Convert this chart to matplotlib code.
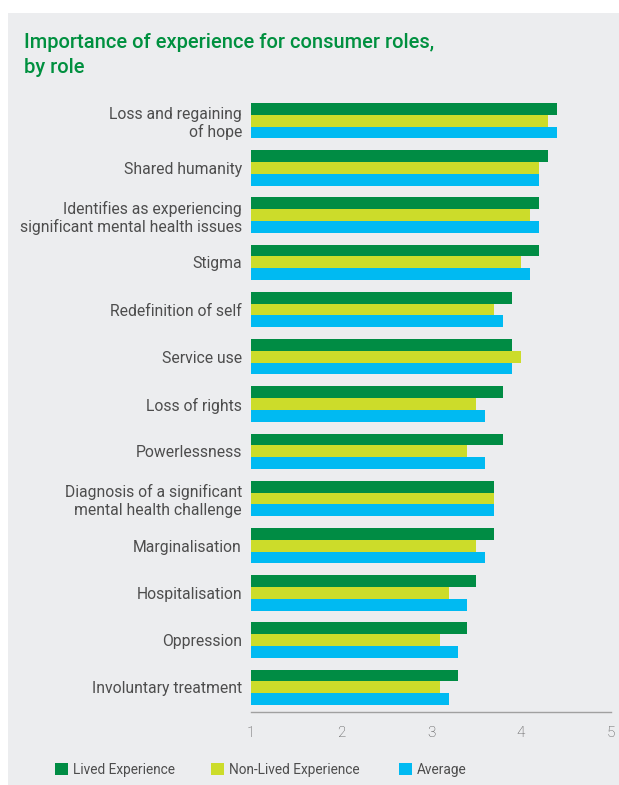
import matplotlib
matplotlib.use("Agg")
import matplotlib.pyplot as plt
from matplotlib.patches import Rectangle
import numpy as np

categories = [
    "Loss and regaining\nof hope",
    "Shared humanity",
    "Identifies as experiencing\nsignificant mental health issues",
    "Stigma",
    "Redefinition of self",
    "Service use",
    "Loss of rights",
    "Powerlessness",
    "Diagnosis of a significant\nmental health challenge",
    "Marginalisation",
    "Hospitalisation",
    "Oppression",
    "Involuntary treatment",
]
lived = [4.4, 4.3, 4.2, 4.2, 3.9, 3.9, 3.8, 3.8, 3.7, 3.7, 3.5, 3.4, 3.3]
non_lived = [4.3, 4.2, 4.1, 4.0, 3.7, 4.0, 3.5, 3.4, 3.7, 3.5, 3.2, 3.1, 3.1]
average = [4.4, 4.2, 4.2, 4.1, 3.8, 3.9, 3.6, 3.6, 3.7, 3.6, 3.4, 3.3, 3.2]
series_names = ["Lived Experience", "Non-Lived Experience", "Average"]
x_ticks = [1, 2, 3, 4, 5]

GREEN = "#008C44"
LIME = "#CCDC2A"
BLUE = "#00BAF2"
BG = "#ECEDEF"
TEXT = "#4D4D4D"

W, H = 619, 785
fig = plt.figure(figsize=(W / 100, H / 100), dpi=100)
fig.patch.set_facecolor("white")

# grey panel behind the chart
fig.patches.append(Rectangle((8 / W, 0), 1 - 8 / W, 1 - 13 / H,
                             transform=fig.transFigure, facecolor=BG,
                             edgecolor="none", zorder=-5))

ax = fig.add_axes([251 / W, (H - 712) / H, 360 / W, 616 / H])
ax.set_facecolor("none")
ax.set_zorder(2)

y = np.arange(len(categories))
bh = 0.25
base = 1
ax.barh(y - bh, np.array(lived) - base, height=bh, left=base, color=GREEN)
ax.barh(y, np.array(non_lived) - base, height=bh, left=base, color=LIME)
ax.barh(y + bh, np.array(average) - base, height=bh, left=base, color=BLUE)

ax.set_xlim(1, 5)
ax.set_ylim(len(categories) - 1 + 0.525, -0.525)
ax.set_xticks(x_ticks)
ax.set_xticklabels([str(t) for t in x_ticks], family="Roboto", fontweight="light",
                   fontsize=11, color=TEXT)
ax.set_yticks(y)
ax.set_yticklabels(categories, family="Roboto", fontweight="normal",
                   fontsize=11.3, color=TEXT, linespacing=1.2)
ax.tick_params(axis="both", length=0)
ax.tick_params(axis="y", pad=6.5)
ax.tick_params(axis="x", pad=10)
for s in ["top", "right", "left"]:
    ax.spines[s].set_visible(False)
ax.spines["bottom"].set_color("#A0A0A0")
ax.spines["bottom"].set_linewidth(1)

fig.text(24 / W, 1 - 55 / H, "Importance of experience for consumer roles,\nby role",
         family="Roboto", fontweight="medium", fontsize=14.5, color="#00903F",
         va="center", ha="left", linespacing=1.45)

# legend
legend_items = [(55, GREEN), (211, LIME), (399, BLUE)]
for (lx, col), name in zip(legend_items, series_names):
    fig.patches.append(Rectangle((lx / W, 1 - 775 / H), 13 / W, 12 / H,
                                 transform=fig.transFigure, facecolor=col,
                                 edgecolor="none"))
    fig.text((lx + 18) / W, 1 - 770 / H, name, family="Roboto", fontweight="normal",
             fontsize=9.8, color=TEXT, va="center", ha="left")

fig.savefig("out.png", dpi=100, facecolor=fig.get_facecolor())
